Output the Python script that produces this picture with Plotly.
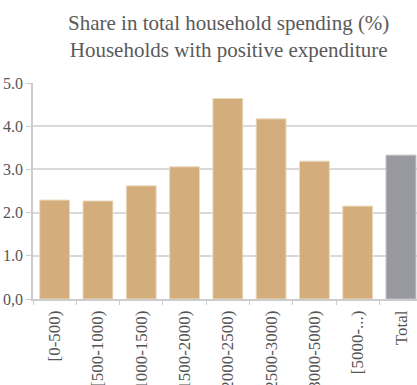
import plotly.graph_objects as go

categories = ["[0-500)", "[500-1000)", "[1000-1500)", "[1500-2000)", "[2000-2500)",
              "[2500-3000)", "[3000-5000)", "[5000-...)", "Total"]
values = [2.29, 2.27, 2.62, 3.06, 4.64, 4.17, 3.19, 2.15, 3.33]
y_tickvals = [0, 1, 2, 3, 4, 5]
y_ticktext = ["0,0", "1.0", "2.0", "3.0", "4.0", "5.0"]
title_text = "Share in total household spending (%)<br>Households with positive expenditure"

tan = "rgb(211,173,123)"
gray = "rgb(153,154,159)"
colors = [tan] * 8 + [gray]
line_colors = ["rgb(236,218,190)"] * 8 + ["rgb(190,190,194)"]

fig = go.Figure(go.Bar(
    x=categories, y=values,
    marker=dict(color=colors, line=dict(color=line_colors, width=1)),
    hoverinfo="skip",
))

font_family = "Liberation Serif"
fig.update_layout(
    width=417, height=385,
    margin=dict(l=33, r=0, t=83, b=86, autoexpand=False),
    paper_bgcolor="white", plot_bgcolor="white",
    bargap=0.31,
    showlegend=False,
    annotations=[dict(
        text=title_text, showarrow=False,
        xref="paper", yref="paper", x=0.508, y=1.213,
        xanchor="center", yanchor="middle",
        font=dict(family=font_family, size=21, color="#5a5a5a"),
    )],
)
fig.update_xaxes(
    range=[-0.5, 8.37],
    tickangle=-90,
    tickfont=dict(family=font_family, size=17, color="#555555"),
    ticks="outside", tickson="boundaries", ticklen=4, tickcolor="#cccccc",
    ticklabelstandoff=3,
    showline=True, linecolor="#cccccc", linewidth=1.5,
    showgrid=False, automargin=False,
)
fig.update_yaxes(
    range=[0, 5],
    tickvals=y_tickvals, ticktext=y_ticktext,
    tickfont=dict(family=font_family, size=16, color="#555555"),
    ticks="outside", ticklen=5, tickcolor="#cccccc",
    showline=True, linecolor="#cccccc", linewidth=1.5,
    showgrid=True, gridcolor="#d9d9d9", gridwidth=1.5,
    zeroline=False, automargin=False,
)

fig.write_html(
    "out.html",
    config={"displayModeBar": False},
    post_script="document.body.style.margin='0';document.body.style.overflow='hidden';",
)
